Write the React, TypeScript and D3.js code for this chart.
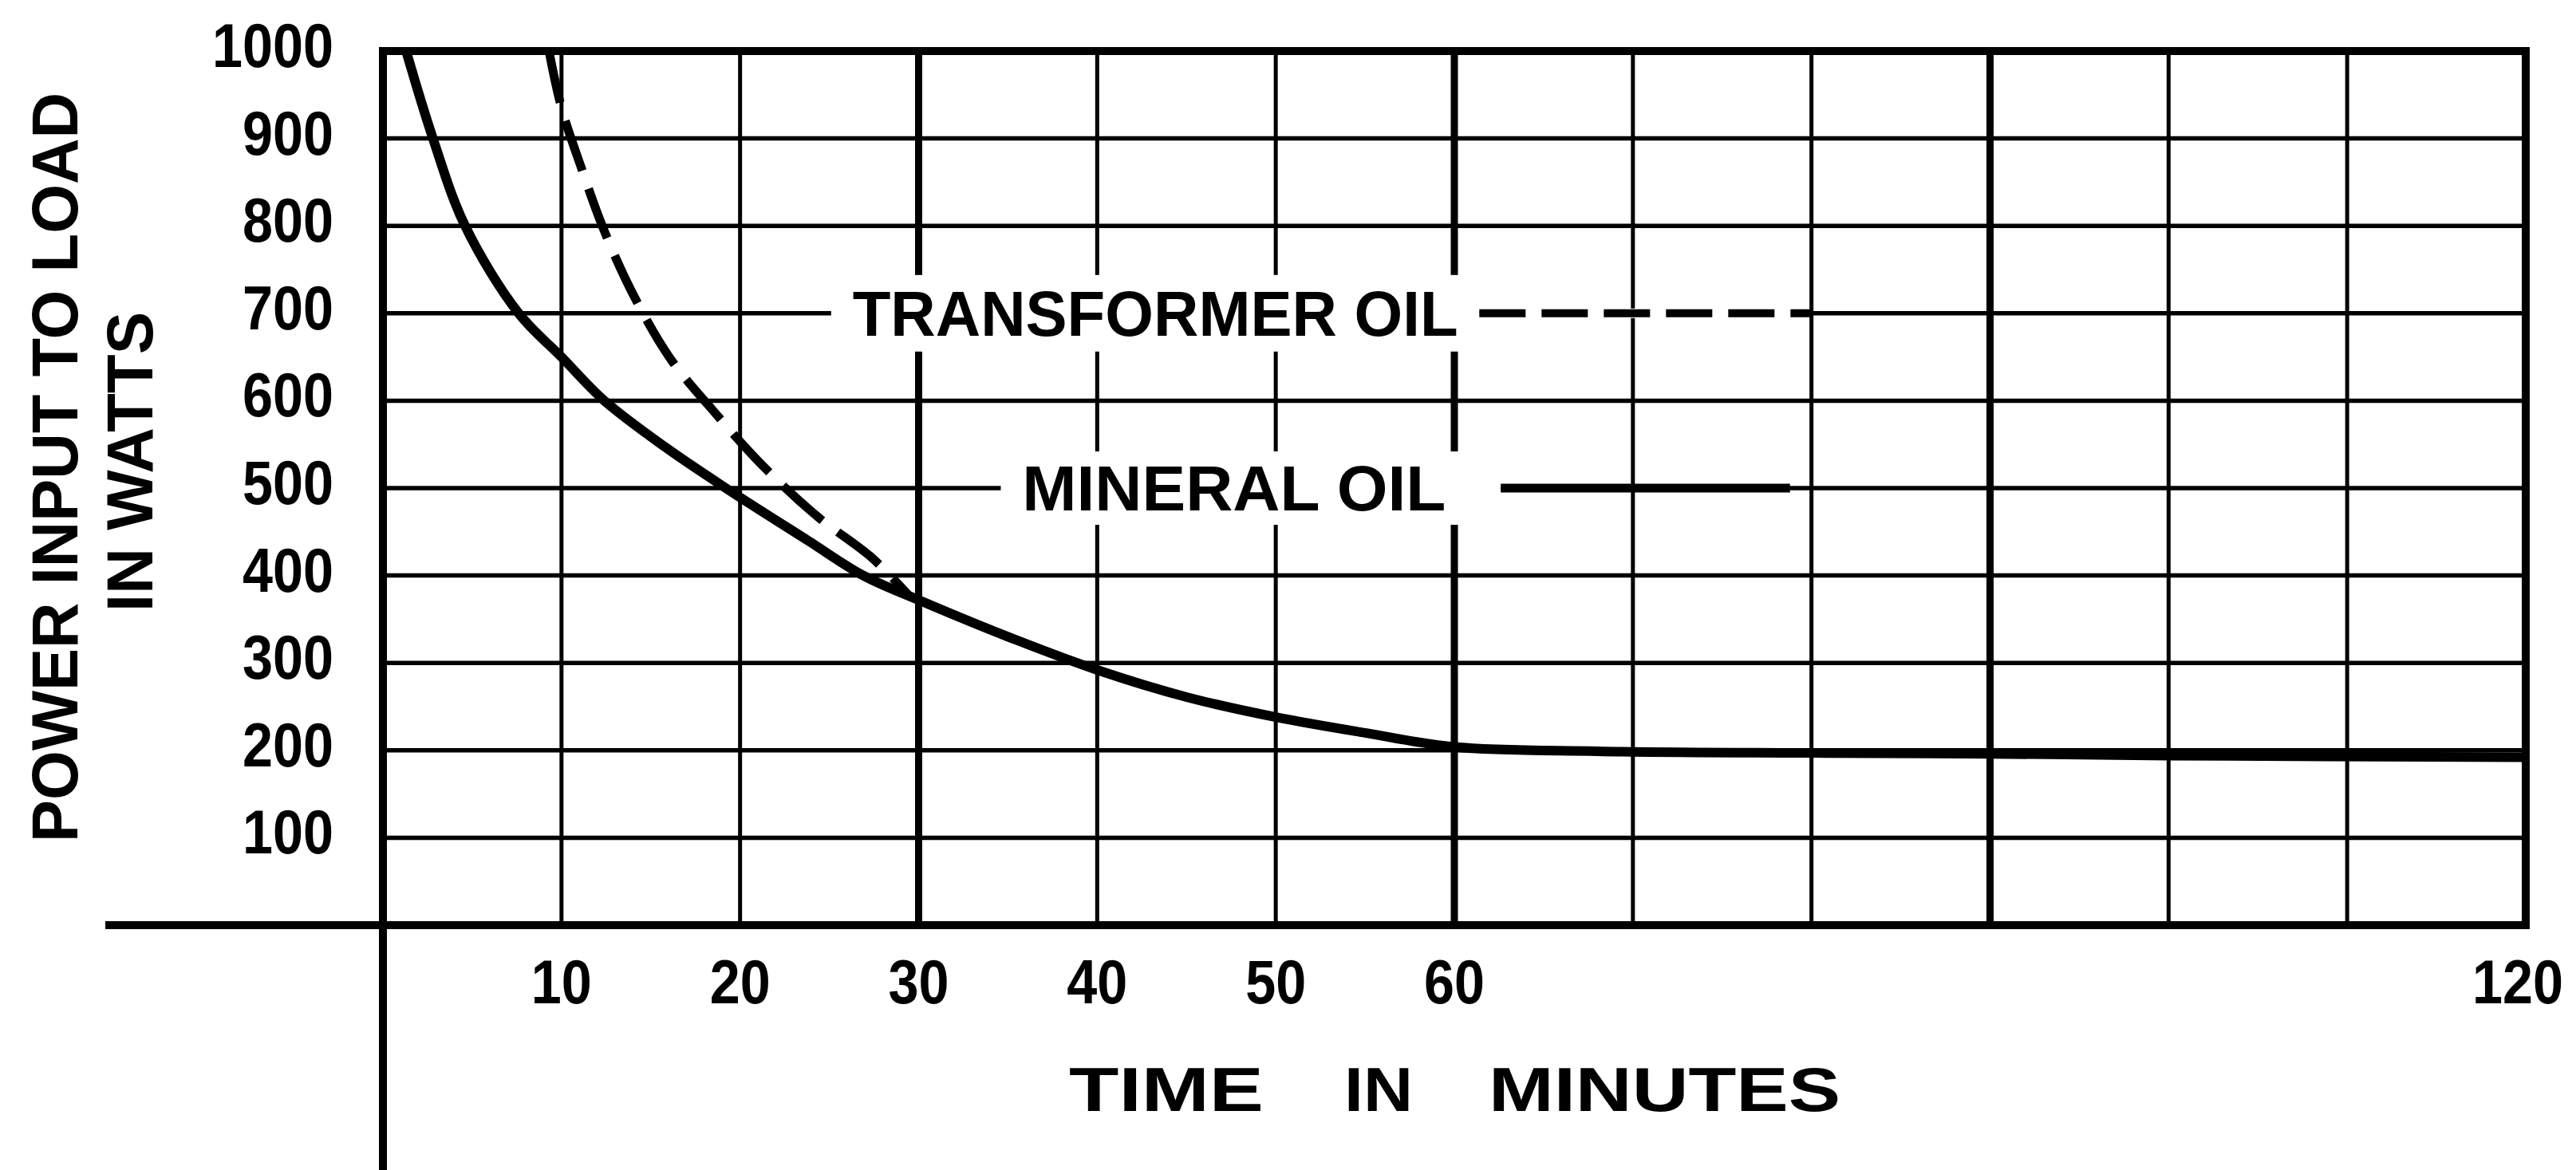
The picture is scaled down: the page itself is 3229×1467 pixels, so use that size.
import * as d3 from "d3";

// minutes / watts
const mineralMinutes = [1.3, 2.8, 4.6, 7.6, 10, 12.4, 15.8, 19.2, 23.8, 26.9, 30, 35, 40, 45, 50, 55, 60, 68, 80, 90, 100, 120];
const mineralWatts = [1000, 900, 800, 700, 650, 600, 547, 500, 440, 400, 372, 330, 292, 261, 238, 220, 204, 199, 197, 196, 194, 192];

const transformerMinutes = [9.3, 10, 11.1, 12.4, 14.1, 16.1, 18.6, 21.3, 24.3, 27.4, 29.5];
const transformerWatts = [1000, 935, 867, 794, 718, 648, 586, 525, 468, 420, 376];

const gridMinutes = [10, 20, 30, 40, 50, 60, 70, 80, 90, 100, 110];
const heavyMinutes = [30, 60, 90];
const gridWatts = [100, 200, 300, 400, 500, 600, 700, 800, 900];

const xTickLabels = [10, 20, 30, 40, 50, 60, 120];
const yTickLabels = [1000, 900, 800, 700, 600, 500, 400, 300, 200, 100];

const W = 3229;
const H = 1467;
const FONT = "'Liberation Sans', Arial, sans-serif";
const DIGIT = 38;

type Pt = [number, number];

export default function App() {
	const x = d3.scaleLinear().domain([0, 120]).range([480, 3166]);
	const y = d3.scaleLinear().domain([0, 1000]).range([1160, 64]);

	const line = d3
		.line<Pt>()
		.x((d) => x(d[0]))
		.y((d) => y(d[1]))
		.curve(d3.curveCatmullRom.alpha(0.5));

	const mineral: Pt[] = mineralMinutes.map((m, i) => [m, mineralWatts[i]]);
	const transformer: Pt[] = transformerMinutes.map((m, i) => [m, transformerWatts[i]]);

	const left = x(0);
	const right = x(120);
	const top = y(1000);
	const bottom = y(0);

	return (
		<svg
			width={W}
			height={H}
			viewBox={`0 0 ${W} ${H}`}
			style={{ position: "absolute", left: 0, top: 0, background: "#fff" }}
		>
			{/* grid */}
			<g stroke="#000" fill="none">
				{gridWatts.map((w) => (
					<line key={"h" + w} x1={left} x2={right} y1={y(w)} y2={y(w)} strokeWidth={5.5} />
				))}
				{gridMinutes.map((m) => (
					<line
						key={"v" + m}
						x1={x(m)}
						x2={x(m)}
						y1={top}
						y2={bottom}
						strokeWidth={heavyMinutes.includes(m) ? 9 : 5}
					/>
				))}
			</g>

			{/* white boxes behind the labels */}
			<g fill="#fff">
				<rect x={x(25.1)} y={y(700) - 48} width={x(61.4) - x(25.1)} height={96} />
				<rect x={x(61.4)} y={y(700) - 6} width={x(80) - x(61.4) - 3} height={12} />
				<rect x={x(34.6)} y={y(500) - 46} width={x(62.6) - x(34.6)} height={92} />
			</g>

			{/* frame and axes */}
			<g stroke="#000" fill="none" strokeWidth={10}>
				<line x1={left} x2={right} y1={top} y2={top} />
				<line x1={right} x2={right} y1={top - 5} y2={bottom} />
				<line x1={132} x2={right + 5} y1={bottom} y2={bottom} />
				<line x1={left} x2={left} y1={top - 5} y2={H} />
			</g>

			{/* legend */}
			<g fontFamily={FONT} fontWeight={700} fontSize={80} fill="#000">
				<text x={x(26.3)} y={y(700) + 28} textLength={759} lengthAdjust="spacingAndGlyphs">
					TRANSFORMER OIL
				</text>
				<text x={x(35.8)} y={y(500) + 28} textLength={531} lengthAdjust="spacingAndGlyphs">
					MINERAL OIL
				</text>
			</g>
			<line
				x1={x(61.4)}
				x2={x(80)}
				y1={y(700)}
				y2={y(700)}
				stroke="#000"
				strokeWidth={10}
				strokeDasharray="58 20"
			/>
			<line x1={x(62.6)} x2={x(78.8)} y1={y(500)} y2={y(500)} stroke="#000" strokeWidth={11} />

			{/* curves */}
			<path d={line(mineral) ?? ""} fill="none" stroke="#000" strokeWidth={12} />
			<path
				d={line(transformer) ?? ""}
				fill="none"
				stroke="#000"
				strokeWidth={11}
				strokeDasharray="66 24"
			/>

			{/* tick labels */}
			<g fontFamily={FONT} fontWeight={700} fontSize={78} fill="#000">
				{yTickLabels.map((v) => (
					<text
						key={"y" + v}
						x={418}
						y={y(v) + 20}
						textAnchor="end"
						textLength={String(v).length * DIGIT}
						lengthAdjust="spacingAndGlyphs"
					>
						{v}
					</text>
				))}
				{xTickLabels.map((v) => {
					const len = String(v).length * DIGIT;
					const x0 = Math.min(x(v) - len / 2, W - 16 - len);
					return (
						<text key={"x" + v} x={x0} y={1258} textLength={len} lengthAdjust="spacingAndGlyphs">
							{v}
						</text>
					);
				})}
			</g>

			{/* axis titles */}
			<g fontFamily={FONT} fontWeight={700} fontSize={78} fill="#000">
				<text x={1340} y={1393} textLength={244} lengthAdjust="spacingAndGlyphs">TIME</text>
				<text x={1685} y={1393} textLength={86} lengthAdjust="spacingAndGlyphs">IN</text>
				<text x={1866} y={1393} textLength={441} lengthAdjust="spacingAndGlyphs">MINUTES</text>
				<text
					transform="translate(97,586) rotate(-90)"
					textAnchor="middle"
					fontSize={82}
					textLength={940}
					lengthAdjust="spacingAndGlyphs"
				>
					POWER INPUT TO LOAD
				</text>
				<text
					transform="translate(191,579) rotate(-90)"
					textAnchor="middle"
					fontSize={82}
					textLength={376}
					lengthAdjust="spacingAndGlyphs"
				>
					IN WATTS
				</text>
			</g>
		</svg>
	);
}
